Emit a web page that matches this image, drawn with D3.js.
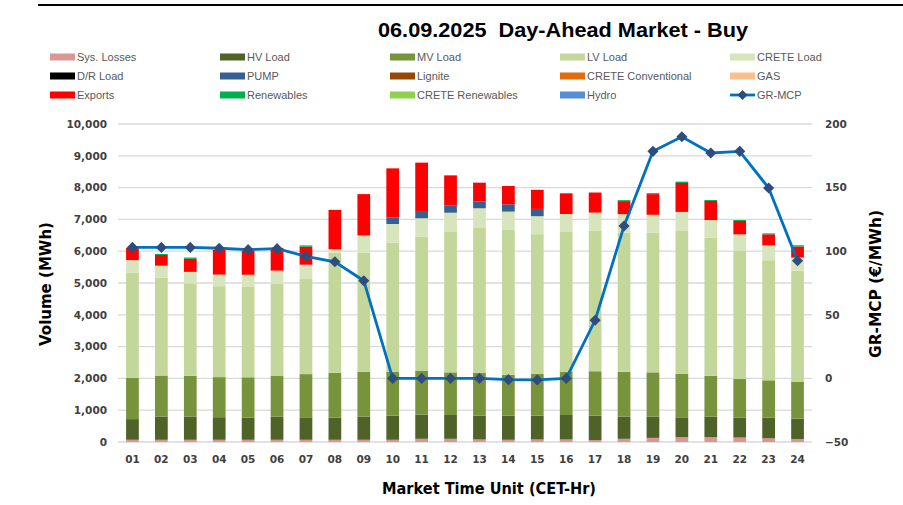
<!DOCTYPE html>
<html><head><meta charset="utf-8">
<script src="https://cdn.jsdelivr.net/npm/d3@7"></script>
<style>body{margin:0;background:#fff}svg{display:block}</style>
</head><body>
<svg id="c" width="903" height="505"></svg>
<script>
const hours = ["01","02","03","04","05","06","07","08","09","10","11","12","13","14","15","16","17","18","19","20","21","22","23","24"];
const sysLosses = [70,70,70,70,70,70,70,70,70,70,100,100,80,70,80,80,60,100,130,150,150,140,115,95];
const hvLoad = [650,730,730,710,695,725,705,695,725,760,760,750,750,760,750,770,770,695,665,625,645,625,650,640];
const mvLoad = [1300,1290,1280,1260,1270,1280,1360,1415,1415,1385,1385,1340,1350,1280,1310,1365,1395,1415,1395,1375,1290,1215,1175,1165];
const lvLoad = [3300,3080,2905,2860,2860,2905,2990,3770,3740,4055,4215,4435,4570,4560,4395,4390,4415,4370,4390,4485,4340,4045,3775,3490];
const creteLoad = [400,375,365,365,365,410,450,110,545,585,575,585,600,575,565,565,575,585,565,600,555,505,470,410];
const drLoad = new Array(24).fill(0);
const pump = [0,0,0,0,0,0,0,0,0,210,230,220,220,230,230,0,0,0,0,0,0,0,0,0];
const lignite = new Array(24).fill(0);
const creteConv = new Array(24).fill(0);
const gas = new Array(24).fill(0);
const exportsV = [385,335,410,775,755,715,565,1240,1300,1540,1520,955,585,575,600,650,630,410,650,910,600,420,345,345];
const renewables = [0,32,40,0,0,0,42,0,0,0,0,0,0,0,0,0,0,31,31,42,31,31,31,42];
const creteRen = new Array(24).fill(0);
const hydro = new Array(24).fill(0);
const grMcp = [103,103,103,102.3,101.2,102,96,91.7,76.8,0,0,0,0,-1,-1.2,0,45.7,119.8,178.5,190,177.2,178.5,149.7,92.5];
const leftTicks = [0,1000,2000,3000,4000,5000,6000,7000,8000,9000,10000];
const rightTicks = [-50,0,50,100,150,200];

const seriesDefs = [
  {key:"Sys. Losses", vals:sysLosses, color:"#DA9694"},
  {key:"HV Load", vals:hvLoad, color:"#4F6228"},
  {key:"MV Load", vals:mvLoad, color:"#77933C"},
  {key:"LV Load", vals:lvLoad, color:"#C4D79B"},
  {key:"CRETE Load", vals:creteLoad, color:"#D8E4BC"},
  {key:"D/R Load", vals:drLoad, color:"#000000"},
  {key:"PUMP", vals:pump, color:"#366092"},
  {key:"Lignite", vals:lignite, color:"#974706"},
  {key:"CRETE Conventional", vals:creteConv, color:"#E26B0A"},
  {key:"GAS", vals:gas, color:"#FABF8F"},
  {key:"Exports", vals:exportsV, color:"#FF0000"},
  {key:"Renewables", vals:renewables, color:"#00B050"},
  {key:"CRETE Renewables", vals:creteRen, color:"#92D050"},
  {key:"Hydro", vals:hydro, color:"#558ED5"}
];
const table = hours.map((h,i)=>{const r={hour:h}; seriesDefs.forEach(s=>r[s.key]=s.vals[i]); return r;});

const svg = d3.select("#c");
const L=118, R=812, T=124, B=442;
const x = d3.scaleBand().domain(hours).range([L,R]).paddingInner(0.56).paddingOuter(0.28);
const y = d3.scaleLinear().domain([0,10000]).range([B,T]);
const y2 = d3.scaleLinear().domain([-50,200]).range([B,T]);

svg.append("line").attr("x1",38).attr("x2",903).attr("y1",5).attr("y2",5).attr("stroke","#000").attr("stroke-width",2);

svg.append("text").attr("x",563).attr("y",37).attr("text-anchor","middle")
  .style("white-space","pre").attr("xml:space","preserve")
  .attr("font-family","Liberation Sans, Arial").attr("font-weight","bold").attr("font-size",20.5)
  .attr("textLength",370).attr("lengthAdjust","spacingAndGlyphs")
  .text("06.09.2025  Day-Ahead Market - Buy");

// grid
svg.append("g").selectAll("line").data(leftTicks).join("line")
  .attr("x1",L).attr("x2",R).attr("y1",d=>y(d)).attr("y2",d=>y(d))
  .attr("stroke","#D9D9D9").attr("stroke-width",1.3);

// bars
const stack = d3.stack().keys(seriesDefs.map(s=>s.key));
const stacked = stack(table);
svg.append("g").selectAll("g").data(stacked).join("g")
  .attr("fill",(d,i)=>seriesDefs[i].color)
  .selectAll("rect").data(d=>d.filter(p=>p[1]-p[0]>0)).join("rect")
  .attr("x",d=>x(d.data.hour)).attr("width",x.bandwidth())
  .attr("y",d=>y(d[1])).attr("height",d=>y(d[0])-y(d[1]));

// axes
const tickFont = "DejaVu Sans, Verdana";
const gl = svg.append("g").attr("transform",`translate(${L-11},0)`)
  .call(d3.axisLeft(y).tickValues(leftTicks).tickFormat(d3.format(",")).tickSize(0).tickPadding(0));
const gr = svg.append("g").attr("transform",`translate(${R+13},0)`)
  .call(d3.axisRight(y2).tickValues(rightTicks).tickSize(0).tickPadding(0));
const gx = svg.append("g").attr("transform",`translate(0,${B+12})`)
  .call(d3.axisBottom(x).tickSize(0).tickPadding(0));
[gl,gr,gx].forEach(g=>{g.select(".domain").remove();
  g.selectAll("text").attr("font-family",tickFont).attr("font-weight","bold").attr("font-size",10.5).attr("fill","#404040");});
gx.selectAll("text").attr("dy","0.9em");

// line
const line = d3.line().x((d,i)=>x(hours[i])+x.bandwidth()/2).y(d=>y2(d));
svg.append("path").datum(grMcp).attr("d",line).attr("fill","none").attr("stroke","#0070C0").attr("stroke-width",2.8);
const sym = d3.symbol().type(d3.symbolSquare).size(62);
svg.append("g").selectAll("path").data(grMcp).join("path")
  .attr("d",sym).attr("fill","#2E4C7C")
  .attr("transform",(d,i)=>`translate(${x(hours[i])+x.bandwidth()/2},${y2(d)}) rotate(45)`);

// axis titles
const titleFont="DejaVu Sans, Verdana";
svg.append("text").attr("transform","translate(51,284) rotate(-90)").attr("text-anchor","middle")
  .attr("font-family",titleFont).attr("font-weight","bold").attr("font-size",15.5).attr("fill","#000")
  .attr("textLength",124).attr("lengthAdjust","spacingAndGlyphs").text("Volume (MWh)");
svg.append("text").attr("transform","translate(881,284) rotate(-90)").attr("text-anchor","middle")
  .attr("font-family",titleFont).attr("font-weight","bold").attr("font-size",15.5).attr("fill","#000")
  .attr("textLength",148).attr("lengthAdjust","spacingAndGlyphs").text("GR-MCP (€/MWh)");
svg.append("text").attr("x",489).attr("y",494).attr("text-anchor","middle")
  .attr("font-family",titleFont).attr("font-weight","bold").attr("font-size",15.5).attr("fill","#000")
  .attr("textLength",214).attr("lengthAdjust","spacingAndGlyphs").text("Market Time Unit (CET-Hr)");

// legend
const legendItems = seriesDefs.map(s=>({name:s.key,color:s.color,type:"rect"})).concat([{name:"GR-MCP",type:"line"}]);
const colX=[50,220,390,560,730], rowY=[57,76,95];
const lg = svg.append("g").selectAll("g").data(legendItems).join("g")
  .attr("transform",(d,i)=>`translate(${colX[i%5]},${rowY[Math.floor(i/5)]})`);
lg.filter(d=>d.type==="rect").append("rect").attr("x",0).attr("y",-3.5).attr("width",25).attr("height",7).attr("fill",d=>d.color);
const ll = lg.filter(d=>d.type==="line");
ll.append("line").attr("x1",0).attr("x2",25).attr("y1",0).attr("y2",0).attr("stroke","#0070C0").attr("stroke-width",2.8);
ll.append("path").attr("d",d3.symbol().type(d3.symbolSquare).size(50)).attr("transform","translate(12.5,0) rotate(45)").attr("fill","#2E4C7C");
lg.append("text").attr("x",27).attr("y",0).attr("dy","0.35em")
  .attr("font-family","Liberation Sans, Arial").attr("font-size",11).attr("fill","#595959").text(d=>d.name);
</script>
</body></html>
